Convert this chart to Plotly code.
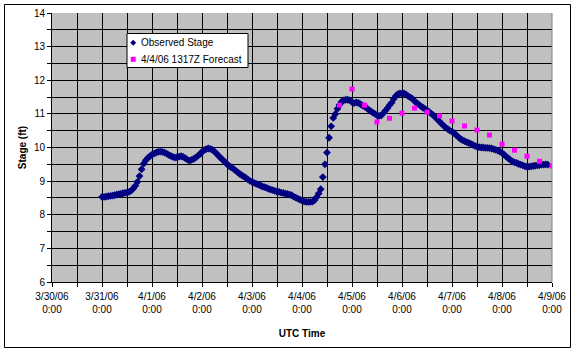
import pandas as pd
import plotly.graph_objects as go

# Observed stage (ft), hourly from 2006-03-31 00:00 UTC
observed_stage = [
    # 3/31
    8.53, 8.53, 8.54, 8.55, 8.56, 8.57, 8.58, 8.60, 8.61, 8.62, 8.64, 8.65,
    8.66, 8.68, 8.72, 8.78, 8.86, 8.98, 9.15, 9.35, 9.52, 9.62, 9.69, 9.74,
    # 4/1
    9.79, 9.82, 9.85, 9.87, 9.88, 9.87, 9.85, 9.82, 9.78, 9.75, 9.72, 9.70,
    9.71, 9.73, 9.74, 9.72, 9.68, 9.64, 9.61, 9.63, 9.66, 9.70, 9.75, 9.80,
    # 4/2
    9.87, 9.92, 9.95, 9.97, 9.96, 9.93, 9.88, 9.82, 9.75, 9.69, 9.63, 9.57,
    9.51, 9.45, 9.41, 9.37, 9.32, 9.27, 9.22, 9.18, 9.14, 9.10, 9.05, 9.01,
    # 4/3
    8.98, 8.95, 8.92, 8.90, 8.87, 8.84, 8.82, 8.80, 8.77, 8.75, 8.73, 8.71,
    8.69, 8.68, 8.66, 8.65, 8.63, 8.62, 8.60, 8.58, 8.54, 8.51, 8.48, 8.45,
    # 4/4
    8.42, 8.40, 8.38, 8.38, 8.38, 8.39, 8.43, 8.52, 8.63, 8.76, 9.12, 9.50,
    9.85, 10.29, 10.63, 10.88, 11.00, 11.15, 11.27, 11.36, 11.40, 11.42, 11.42, 11.40,
    # 4/5
    11.35, 11.32, 11.34, 11.33, 11.29, 11.25, 11.22, 11.18, 11.12, 11.08, 11.04, 11.00,
    10.96, 10.94, 10.95, 11.02, 11.09, 11.17, 11.26, 11.33, 11.44, 11.53, 11.59, 11.61,
    # 4/6
    11.60, 11.61, 11.57, 11.53, 11.49, 11.45, 11.38, 11.33, 11.28, 11.23, 11.19, 11.15,
    11.11, 11.06, 11.01, 10.96, 10.90, 10.84, 10.77, 10.71, 10.65, 10.59, 10.55, 10.50,
    # 4/7
    10.47, 10.43, 10.37, 10.31, 10.26, 10.22, 10.19, 10.16, 10.14, 10.11, 10.08, 10.05,
    10.03, 10.01, 10.00, 10.00, 9.99, 9.99, 9.98, 9.97, 9.95, 9.93, 9.91, 9.88,
    # 4/8
    9.84, 9.79, 9.73, 9.68, 9.63, 9.59, 9.56, 9.54, 9.51, 9.49, 9.47, 9.44,
    9.43, 9.43, 9.44, 9.45, 9.46, 9.47, 9.48, 9.49, 9.49, 9.50, 9.49,
]
observed_start = "2006-03-31 00:00"
observed_name = "Observed Stage"

# 4/4/06 1317Z forecast, 6-hourly from 2006-04-04 18:00 UTC
forecast_stage = [
    11.26, 11.74, 11.26, 10.76, 10.87, 11.02, 11.17, 11.05, 10.94,
    10.79, 10.64, 10.52, 10.37, 10.10, 9.92, 9.74, 9.59, 9.45,
]
forecast_start = "2006-04-04 18:00"
forecast_name = "4/4/06 1317Z Forecast"

tick_dates = pd.date_range("2006-03-30", "2006-04-09", freq="D")
tick_labels = [f"{d.month}/{d.day}/06<br>0:00" for d in tick_dates]

obs_time = pd.date_range(observed_start, periods=len(observed_stage), freq="h")
fc_time = pd.date_range(forecast_start, periods=len(forecast_stage), freq="6h")

FONT = "Liberation Sans, Arial, sans-serif"
NAVY = "#000080"
MAGENTA = "#FF00FF"

W, H = 576, 352
L, R, T, B = 52, 24, 13, 70
PW, PH = W - L - R, H - T - B


def px(x):
    return (x - L) / PW


def py(y):
    return (H - B - y) / PH


fig = go.Figure()
fig.add_trace(go.Scatter(
    x=obs_time, y=observed_stage, mode="markers", name=observed_name,
    marker=dict(symbol="diamond", size=6, color=NAVY, line=dict(width=0)),
))
fig.add_trace(go.Scatter(
    x=fc_time, y=forecast_stage, mode="markers", name=forecast_name,
    marker=dict(symbol="square", size=5, color=MAGENTA, line=dict(width=0)),
))

# legend box (drawn to match the compact spreadsheet legend)
lg_x0, lg_x1, lg_y0, lg_y1 = 127, 248, 33.5, 67.5
row1, row2 = 42.7, 59.3
sym_x, txt_x = 133.2, 138.5
shapes = [
    dict(type="line", xref="paper", yref="paper", x0=1, x1=1, y0=0, y1=1,
         line=dict(color="#808080", width=1)),
    dict(type="rect", xref="paper", yref="paper",
         x0=px(4.5), x1=px(570.5), y0=py(347.5), y1=py(4.5),
         line=dict(color="black", width=1), fillcolor="rgba(0,0,0,0)"),
    dict(type="rect", xref="paper", yref="paper",
         x0=px(lg_x0), x1=px(lg_x1), y0=py(lg_y1), y1=py(lg_y0),
         line=dict(color="black", width=1), fillcolor="white"),
    dict(type="path", xref="paper", yref="paper",
         path=(f"M {px(sym_x - 3)},{py(row1)} L {px(sym_x)},{py(row1 - 3)} "
               f"L {px(sym_x + 3)},{py(row1)} L {px(sym_x)},{py(row1 + 3)} Z"),
         line=dict(width=0), fillcolor=NAVY),
    dict(type="rect", xref="paper", yref="paper",
         x0=px(sym_x - 2.5), x1=px(sym_x + 2.5), y0=py(row2 + 2.5), y1=py(row2 - 2.5),
         line=dict(width=0), fillcolor=MAGENTA),
]
annotations = [
    dict(text=observed_name, xref="paper", yref="paper", x=px(txt_x), y=py(row1),
         xanchor="left", yanchor="middle", showarrow=False,
         font=dict(family=FONT, size=10, color="black")),
    dict(text=forecast_name, xref="paper", yref="paper", x=px(txt_x), y=py(row2),
         xanchor="left", yanchor="middle", showarrow=False,
         font=dict(family=FONT, size=10, color="black")),
]

fig.update_layout(
    width=W, height=H, autosize=False,
    margin=dict(l=L, r=R, t=T, b=B, pad=0, autoexpand=False),
    paper_bgcolor="white", plot_bgcolor="#C0C0C0",
    font=dict(family=FONT, size=10, color="black"),
    showlegend=False,
    xaxis=dict(
        range=["2006-03-30 00:00", "2006-04-09 00:00"],
        tickvals=tick_dates, ticktext=tick_labels,
        ticks="outside", ticklen=4, tickcolor="black",
        showgrid=True, gridcolor="black", gridwidth=1,
        showline=True, linecolor="black", linewidth=1,
        zeroline=False, automargin=False, ticklabelstandoff=1,
        minor=dict(dtick=12 * 3600 * 1000, ticks="outside", ticklen=4,
                   tickcolor="black", showgrid=True, gridcolor="black", gridwidth=1),
        title=dict(text="<b>UTC Time</b>", font=dict(family=FONT, size=10), standoff=15),
        tickfont=dict(family=FONT, size=10),
    ),
    yaxis=dict(
        range=[6, 14], dtick=1, tick0=6,
        ticks="outside", ticklen=4, tickcolor="black",
        showgrid=True, gridcolor="black", gridwidth=1,
        showline=True, linecolor="black", linewidth=1,
        zeroline=False, automargin=False,
        minor=dict(dtick=0.5, ticks="outside", ticklen=4, tickcolor="black",
                   showgrid=True, gridcolor="black", gridwidth=1),
        title=dict(text="<b>Stage (ft)</b>", font=dict(family=FONT, size=10), standoff=5),
        tickfont=dict(family=FONT, size=10),
    ),
    shapes=shapes,
    annotations=annotations,
)

fig.write_html(
    "out.html",
    config={"displayModeBar": False},
    post_script="document.body.style.margin='0';document.body.style.overflow='hidden';",
)
